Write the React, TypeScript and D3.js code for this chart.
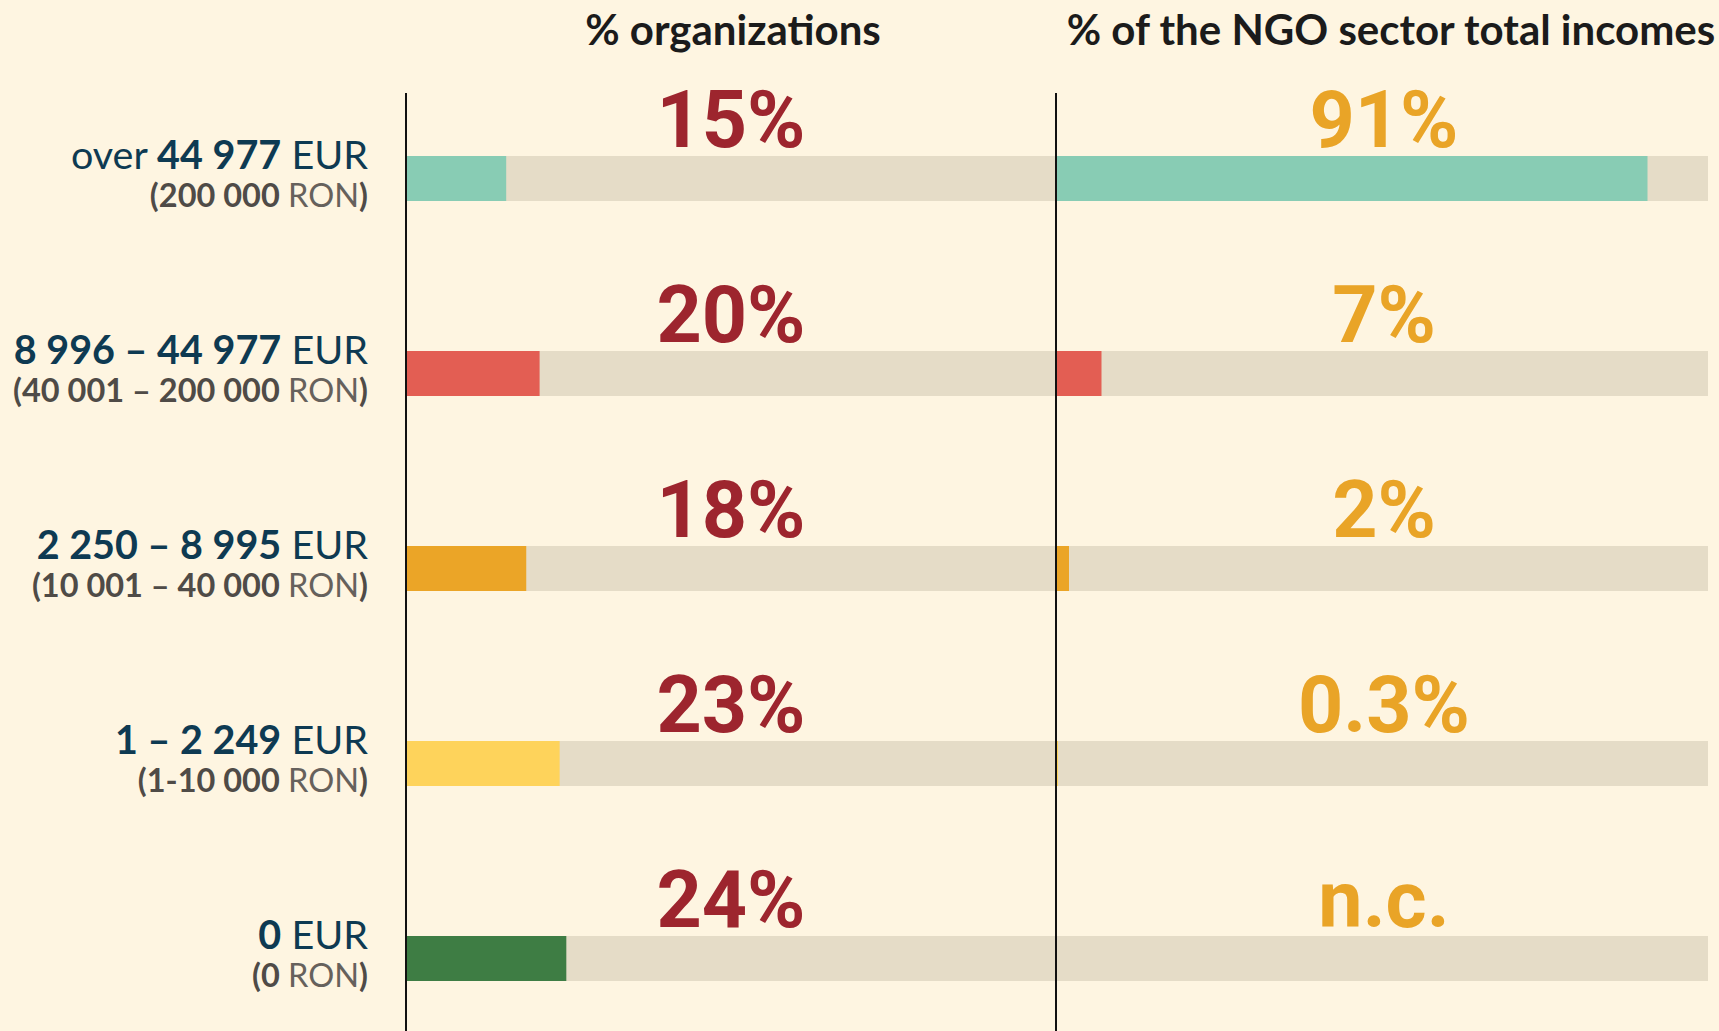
import React from "react";
import * as d3 from "d3";

// ---- data ----
const categories = ["over 44977", "8996-44977", "2250-8995", "1-2249", "0"];
const eurLabels: [string, string, string][] = [
  ["over ", "44 977", " EUR"],
  ["", "8 996 – 44 977", " EUR"],
  ["", "2 250 – 8 995", " EUR"],
  ["", "1 – 2 249", " EUR"],
  ["", "0", " EUR"],
];
const ronLabels: string[] = ["200 000", "40 001 – 200 000", "10 001 – 40 000", "1-10 000", "0"];
const orgShare = [15, 20, 18, 23, 24];
const orgLabels = ["15%", "20%", "18%", "23%", "24%"];
const incomeShare: (number | null)[] = [91, 7, 2, 0.3, null];
const incomeLabels = ["91%", "7%", "2%", "0.3%", "n.c."];
const barColors = ["#88ccb4", "#e35e53", "#eba527", "#fed35b", "#3e7d44"];
const headers = ["% organizations", "% of the NGO sector total incomes"];

// ---- layout ----
const W = 1719;
const H = 1031;
const BG = "#fef5e1";
const TRACK = "#e5dcc7";
const BAR_H = 45;

export default function App() {
  const leftX0 = 406;
  const midX = 1056;
  const rightX1 = 1708;

  const xLeft = d3.scaleLinear().domain([0, 100]).range([leftX0, leftX0 + 668]);
  const xRight = d3.scaleLinear().domain([0, 100]).range([midX, midX + 650]);
  const y = d3
    .scalePoint<string>()
    .domain(categories)
    .range([156 + BAR_H / 2, 936 + BAR_H / 2]);

  const labelX = 368;
  const leftCenter = (leftX0 + midX) / 2;
  const rightCenter = (midX + rightX1) / 2 + 2;

  React.useEffect(() => {
    document.body.style.margin = "0";
    document.body.style.background = BG;
  }, []);

  return (
    <svg
      width={W}
      height={H}
      viewBox={`0 0 ${W} ${H}`}
      style={{ display: "block", position: "absolute", left: 0, top: 0 }}
    >
      <rect x={0} y={0} width={W} height={H} fill={BG} />

      {/* headers */}
      <text
        x={leftCenter + 2}
        y={45}
        textAnchor="middle"
        fontFamily="Lato, sans-serif"
        fontWeight={700}
        fontSize={42}
        fill="#1b1b1b"
      >
        {headers[0]}
      </text>
      <text
        x={rightCenter + 7}
        y={45}
        textAnchor="middle"
        fontFamily="Lato, sans-serif"
        fontWeight={700}
        fontSize={42}
        fill="#1b1b1b"
      >
        {headers[1]}
      </text>

      {categories.map((c, i) => {
        const cy = y(c)!;
        const top = cy - BAR_H / 2;
        const inc = incomeShare[i];
        return (
          <g key={c}>
            {/* tracks */}
            <rect x={leftX0} y={top} width={midX - leftX0} height={BAR_H} fill={TRACK} />
            <rect x={midX} y={top} width={rightX1 - midX} height={BAR_H} fill={TRACK} />
            {/* bars */}
            <rect
              x={xLeft(0)}
              y={top}
              width={xLeft(orgShare[i]) - xLeft(0)}
              height={BAR_H}
              fill={barColors[i]}
            />
            {inc !== null && (
              <rect
                x={xRight(0)}
                y={top}
                width={Math.max(2, xRight(inc) - xRight(0))}
                height={BAR_H}
                fill={barColors[i]}
              />
            )}
            {/* value labels */}
            <text
              x={leftCenter}
              y={top - 9}
              textAnchor="middle"
              fontFamily="Roboto, sans-serif"
              fontWeight={700}
              fontSize={79}
              fill="#9d252e"
            >
              {orgLabels[i]}
            </text>
            <text
              x={rightCenter}
              y={top - 9}
              textAnchor="middle"
              fontFamily="Roboto, sans-serif"
              fontWeight={700}
              fontSize={79}
              fill="#e9a427"
            >
              {incomeLabels[i]}
            </text>
            {/* category labels */}
            <text
              x={labelX}
              y={cy - 10}
              textAnchor="end"
              fontFamily="Lato, sans-serif"
              fontSize={39.5}
              fill="#0e3a52"
            >
              <tspan fontWeight={400}>{eurLabels[i][0]}</tspan>
              <tspan fontWeight={700}>{eurLabels[i][1]}</tspan>
              <tspan fontWeight={400}>{eurLabels[i][2]}</tspan>
            </text>
            <text
              x={labelX}
              y={cy + 28}
              textAnchor="end"
              fontFamily="Lato, sans-serif"
              fontSize={32.5}
              fill="#4f4b47"
            >
              <tspan fontWeight={700}>{"(" + ronLabels[i]}</tspan>
              <tspan fontWeight={400} fill="#66615c">{" RON"}</tspan>
              <tspan fontWeight={700}>{")"}</tspan>
            </text>
          </g>
        );
      })}

      {/* axis lines */}
      <line x1={leftX0} x2={leftX0} y1={93} y2={H} stroke="#111" strokeWidth={2} />
      <line x1={midX} x2={midX} y1={93} y2={H} stroke="#111" strokeWidth={2} />
    </svg>
  );
}
